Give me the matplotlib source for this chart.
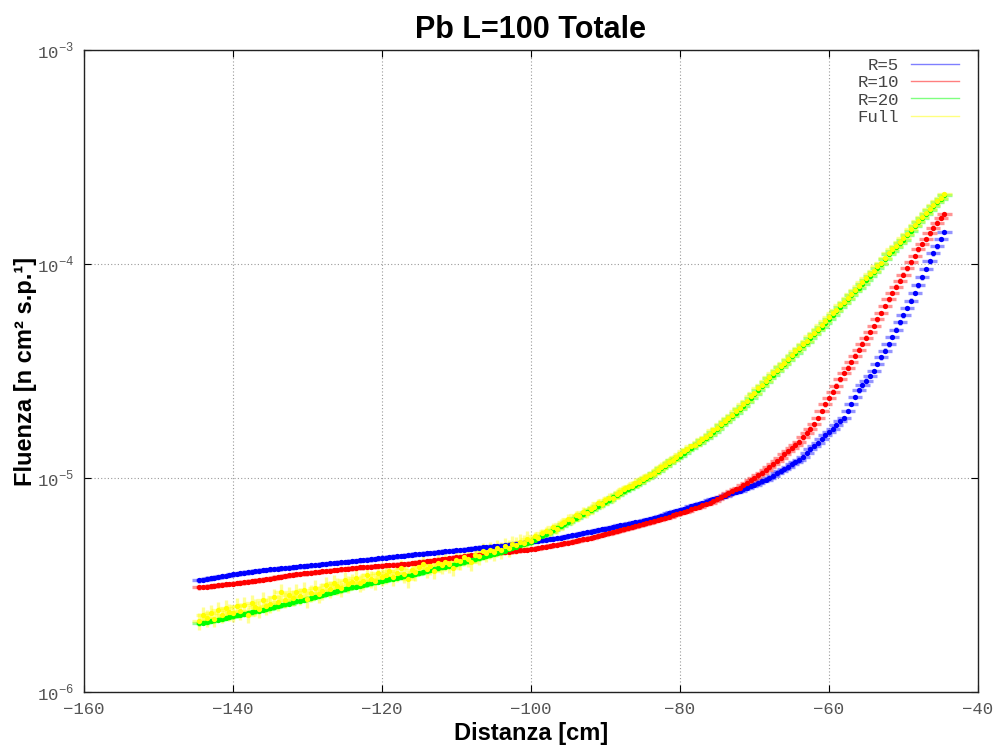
import numpy as np
import matplotlib

matplotlib.use("Agg")
import matplotlib.pyplot as plt  # noqa: E402
from matplotlib.colors import to_rgba  # noqa: E402
from matplotlib.lines import Line2D  # noqa: E402
from matplotlib.ticker import FixedLocator, FixedFormatter, NullLocator  # noqa: E402

plt.rcParams["mathtext.fontset"] = "custom"
plt.rcParams["mathtext.rm"] = "Liberation Mono"

# bin centres [cm], 0.5 cm apart
distanza = np.arange(-144.5, -44.25, 0.5)

# fluence, units of 1e-6 n cm^-2 per source particle
r5 = [
    3.33, 3.35, 3.38, 3.40, 3.42, 3.45, 3.47, 3.49, 3.52, 3.55,
    3.56, 3.59, 3.61, 3.63, 3.65, 3.68, 3.69, 3.72,
    3.72, 3.74, 3.76, 3.77, 3.78, 3.80, 3.81, 3.83,
    3.84, 3.86, 3.87, 3.89, 3.90, 3.92, 3.94, 3.96,
    3.97, 3.99, 4.00, 4.02, 4.04, 4.05, 4.07, 4.09,
    4.10, 4.12, 4.14, 4.15, 4.17, 4.19, 4.22, 4.24,
    4.25, 4.27, 4.29, 4.30, 4.32, 4.34, 4.36, 4.38,
    4.40, 4.41, 4.43, 4.45, 4.47, 4.48, 4.50, 4.52,
    4.54, 4.56, 4.58, 4.60, 4.61, 4.63, 4.66, 4.68,
    4.70, 4.72, 4.74, 4.76, 4.77, 4.79, 4.81, 4.83,
    4.86, 4.88, 4.91, 4.94, 4.96, 4.99, 5.01, 5.04,
    5.07, 5.10, 5.12, 5.15, 5.18, 5.21, 5.24, 5.27,
    5.31, 5.35, 5.40, 5.44, 5.48, 5.53, 5.57, 5.62,
    5.66, 5.71, 5.76, 5.80, 5.85, 5.90, 5.95, 6.00,
    6.05, 6.10, 6.16, 6.21, 6.26, 6.32, 6.37, 6.43,
    6.50, 6.58, 6.66, 6.74, 6.83, 6.91, 6.99, 7.08,
    7.17, 7.27, 7.36, 7.46, 7.55, 7.65, 7.75, 7.85,
    7.95, 8.06, 8.16, 8.27, 8.38, 8.49, 8.60, 8.71,
    8.86, 9.01, 9.16, 9.32, 9.48, 9.64, 9.82, 10.0,
    10.25, 10.5, 10.75, 11.0, 11.3, 11.6, 11.9, 12.2,
    12.6, 13.1, 13.6, 14.1, 14.6, 15.2, 15.8, 16.4,
    17.0, 17.7, 18.4, 19.1,
    20.6, 22.2, 23.9, 25.7,
    27.1, 28.5, 30.0, 31.6,
    34.1, 36.7, 39.4, 42.2,
    45.6, 49.3, 53.3, 57.5,
    62.3, 67.5, 73.1, 79.4,
    86.8, 94.8, 103, 112,
    121, 131, 141,
]
r10 = [
    3.08, 3.09, 3.11, 3.12, 3.14, 3.15, 3.17, 3.18, 3.20, 3.21,
    3.23, 3.24, 3.26, 3.28, 3.29, 3.31, 3.33, 3.35,
    3.37, 3.39, 3.42, 3.44, 3.46, 3.48, 3.51, 3.53,
    3.55, 3.56, 3.58, 3.59, 3.61, 3.63, 3.64, 3.66,
    3.68, 3.69, 3.71, 3.72, 3.74, 3.76, 3.77, 3.79,
    3.80, 3.82, 3.83, 3.84, 3.85, 3.87, 3.88, 3.89,
    3.90, 3.92, 3.93, 3.94, 3.96, 3.97, 3.98, 4.00,
    4.02, 4.04, 4.06, 4.08, 4.10, 4.13, 4.15, 4.17,
    4.19, 4.21, 4.24, 4.26, 4.28, 4.30, 4.33, 4.35,
    4.37, 4.38, 4.40, 4.42, 4.44, 4.45, 4.47, 4.49,
    4.51, 4.53, 4.55, 4.57, 4.59, 4.61, 4.63, 4.65,
    4.68, 4.71, 4.74, 4.78, 4.81, 4.84, 4.87, 4.91,
    4.95, 4.99, 5.03, 5.08, 5.12, 5.16, 5.21, 5.25,
    5.30, 5.36, 5.41, 5.47, 5.53, 5.58, 5.64, 5.70,
    5.76, 5.82, 5.88, 5.95, 6.01, 6.07, 6.14, 6.21,
    6.28, 6.36, 6.44, 6.52, 6.60, 6.68, 6.76, 6.84,
    6.94, 7.04, 7.14, 7.24, 7.35, 7.45, 7.56, 7.67,
    7.82, 7.98, 8.15, 8.31, 8.48, 8.65, 8.84, 9.02,
    9.26, 9.51, 9.77, 10.0, 10.3, 10.6, 10.9, 11.2,
    11.6, 12.0, 12.4, 12.9, 13.3, 13.8, 14.3, 14.8,
    15.5, 16.3, 17.0, 17.8,
    19.1, 20.6, 22.1, 23.7,
    25.3, 27.0, 28.9, 30.9,
    32.8, 34.9, 37.3, 39.8,
    42.5, 45.3, 48.2, 51.3,
    55.2, 59.1, 63.6, 68.4,
    73.2, 78.4, 83.6, 89.1,
    95.5, 102, 109, 117,
    124, 131, 139, 148,
    156, 164, 171,
]
r20 = [
    2.09, 2.11, 2.13, 2.15, 2.16, 2.18, 2.20, 2.22, 2.24, 2.26,
    2.28, 2.30, 2.32, 2.34, 2.36, 2.38, 2.40, 2.42,
    2.44, 2.47, 2.49, 2.52, 2.54, 2.57, 2.59, 2.62,
    2.65, 2.67, 2.70, 2.73, 2.76, 2.78, 2.81, 2.84,
    2.87, 2.90, 2.93, 2.96, 2.99, 3.02, 3.05, 3.08,
    3.11, 3.14, 3.16, 3.19, 3.22, 3.25, 3.28, 3.31,
    3.34, 3.36, 3.39, 3.42, 3.45, 3.47, 3.50, 3.53,
    3.56, 3.60, 3.63, 3.67, 3.71, 3.74, 3.78, 3.82,
    3.85, 3.89, 3.93, 3.96, 4.00, 4.04, 4.08, 4.12,
    4.17, 4.22, 4.27, 4.32, 4.37, 4.42, 4.47, 4.52,
    4.58, 4.65, 4.71, 4.78, 4.85, 4.91, 4.98, 5.04,
    5.15, 5.26, 5.37, 5.49, 5.60, 5.72, 5.84, 5.96,
    6.09, 6.22, 6.36, 6.49, 6.63, 6.78, 6.93, 7.08,
    7.24, 7.41, 7.58, 7.75, 7.93, 8.12, 8.31, 8.51,
    8.70, 8.90, 9.10, 9.31, 9.52, 9.74, 9.96, 10.2,
    10.5, 10.8, 11.1, 11.4, 11.7, 12.1, 12.4, 12.7,
    13.1, 13.5, 13.8, 14.2, 14.6, 15.0, 15.4, 15.8,
    16.4, 17.0, 17.6, 18.2, 18.8, 19.5, 20.2, 20.9,
    21.8, 22.7, 23.7, 24.7, 25.8, 26.9, 28.0, 29.2,
    30.3, 31.6, 32.9, 34.2, 35.5, 37.0, 38.5, 40.0,
    41.7, 43.4, 45.1, 47.0, 48.9, 51.0, 53.2, 55.6,
    58.0, 60.4, 62.9, 65.6, 68.4, 71.3, 74.4, 77.6,
    81.0, 84.5, 88.1, 91.9, 95.8, 100, 105, 111,
    115, 120, 125, 130, 136, 143, 150, 157,
    164, 171, 178, 186,
    194, 202, 210,
]
full = [
    2.15, 2.28, 2.22, 2.34, 2.20, 2.41, 2.30, 2.47, 2.36, 2.33,
    2.52, 2.38, 2.55, 2.30, 2.61, 2.49, 2.44, 2.68,
    2.52, 2.58, 2.79, 2.63, 2.92, 2.70, 2.83, 2.76,
    2.93, 2.81, 2.99, 2.72, 2.90, 3.05, 2.86, 2.97,
    3.16, 3.03, 3.24, 3.12, 3.06, 3.35, 3.19, 3.28,
    3.41, 3.22, 3.30, 3.52, 3.37, 3.29, 3.58, 3.44,
    3.51, 3.66, 3.45, 3.60, 3.78, 3.55, 3.38, 3.70,
    3.62, 3.83, 3.97, 3.74, 3.88, 3.69, 4.02, 3.91,
    4.06, 3.95, 3.81, 4.15, 4.09, 4.28, 4.20, 4.05,
    4.38, 4.31, 4.55, 4.44, 4.62, 4.51, 4.70, 4.59,
    4.80, 4.71, 4.92, 4.85, 5.03, 4.96, 5.18, 5.09,
    5.33, 5.22, 5.51, 5.65, 5.58, 5.87, 5.79, 6.12,
    6.21, 6.45, 6.33, 6.70, 6.62, 6.95, 6.88, 7.20,
    7.35, 7.62, 7.55, 7.88, 8.10, 8.05, 8.42, 8.60,
    8.85, 9.05, 9.22, 9.48, 9.60, 9.90, 10.1, 10.3,
    10.6, 10.9, 11.3, 11.5, 11.9, 12.2, 12.5, 12.9,
    13.3, 13.6, 14.1, 14.3, 14.8, 15.2, 15.6, 16.0,
    16.7, 17.2, 17.8, 18.5, 19.0, 19.8, 20.5, 21.2,
    22.2, 23.0, 24.1, 25.0, 26.2, 27.2, 28.5, 29.5,
    30.8, 32.0, 33.5, 34.6, 36.1, 37.4, 39.2, 40.5,
    42.4, 43.9, 45.9, 47.6, 49.8, 51.6, 54.1, 56.3,
    59.0, 61.2, 64.0, 66.4, 69.6, 72.2, 75.7, 78.6,
    82.4, 85.6, 89.6, 93.1, 97.5, 101, 107, 112,
    117, 122, 127, 132, 138, 145, 152, 159,
    166, 173, 181, 188,
    197, 204, 212,
]

labels = ["R=5", "R=10", "R=20", "Full"]
colors = ["#0000ff", "#ff0000", "#00ff00", "#ffff00"]
rel_err = [0.025, 0.025, 0.025, 0.03]
# Full has bigger statistical error in the low-fluence region
full_err_edges = [-100, -80]
full_err_levels = [0.09, 0.05, 0.025]
half_bin = 0.95

fig = plt.figure(figsize=(9.96, 7.51), dpi=100)
ax = fig.add_axes([0.0843, 0.0786, 0.8976, 0.8548])

for lab, col, vals, rel in zip(labels, colors, [r5, r10, r20, full], rel_err):
    y = np.asarray(vals) * 1e-6
    if lab == "Full":
        rel = np.asarray(full_err_levels)[np.digitize(distanza, full_err_edges)]
    ax.errorbar(distanza, y, yerr=y * rel, xerr=half_bin, fmt="o", ms=3.8,
                mfc=col, mec=col, mew=0, ecolor=to_rgba(col, 0.42),
                elinewidth=2.4, capsize=0, label=lab)

ax.set_yscale("log")
ax.set_xlim(-160, -40)
ax.set_ylim(1e-6, 1e-3)
ax.xaxis.set_major_locator(FixedLocator(np.arange(-160, -39, 20)))
ax.yaxis.set_major_locator(FixedLocator([1e-6, 1e-5, 1e-4, 1e-3]))
ax.yaxis.set_major_formatter(FixedFormatter([r"$10^{-6}$", r"$10^{-5}$", r"$10^{-4}$", r"$10^{-3}$"]))
ax.yaxis.set_minor_locator(NullLocator())
ax.tick_params(which="both", direction="in", top=True, right=True, length=5,
               labelsize=12.5, labelcolor="#555555")
ax.tick_params(axis="x", pad=7)
ax.tick_params(axis="y", pad=7)
for lbl in ax.get_xticklabels():
    lbl.set_family("Liberation Mono")
ax.grid(True, color="#9a9a9a", lw=0.8, ls=(0, (1, 2)))
for sp in ax.spines.values():
    sp.set_color("#222222")
    sp.set_linewidth(1.0)

ax.set_title("Pb L=100 Totale", fontsize=22, fontweight="bold", family="Liberation Sans", pad=9)
ax.set_xlabel("Distanza [cm]", fontsize=17, fontweight="bold", family="Liberation Sans")
ax.xaxis.set_label_coords(0.5, -0.047)
ax.set_ylabel("Fluenza [n cm² s.p.¹]", fontsize=17, fontweight="bold", family="Liberation Sans")
ax.yaxis.set_label_coords(-0.052, 0.5)

handles = [Line2D([], [], color=c, alpha=0.5, lw=1.0) for c in colors]
ax.legend(handles, labels, loc="upper right", bbox_to_anchor=(0.996, 1.012), frameon=False,
          markerfirst=False, handlelength=2.75, handletextpad=0.7, labelspacing=0.12,
          prop={"family": "Liberation Mono", "size": 12.5}, labelcolor="#444444")

fig.savefig("out.png", dpi=100)
